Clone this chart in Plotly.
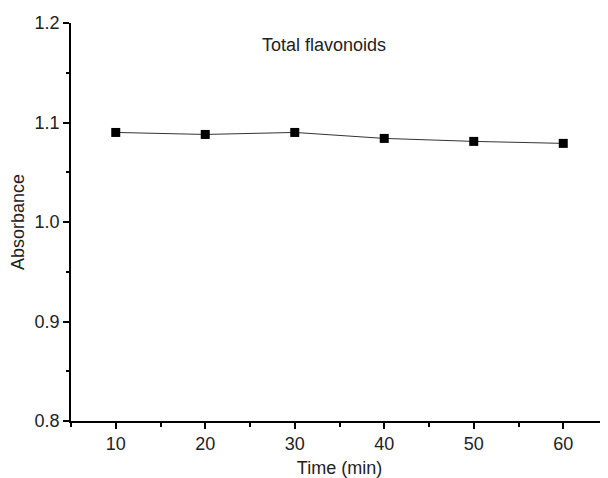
import plotly.graph_objects as go

time_min = [10, 20, 30, 40, 50, 60]
absorbance = [1.090, 1.088, 1.090, 1.084, 1.081, 1.079]
x_ticks = [10, 20, 30, 40, 50, 60]
y_ticks = [0.8, 0.9, 1.0, 1.1, 1.2]
title_text = "Total flavonoids"

fig = go.Figure()
fig.add_trace(go.Scatter(
    x=time_min, y=absorbance, mode="lines+markers",
    line=dict(color="#333333", width=1),
    marker=dict(symbol="square", size=9, color="black"),
    showlegend=False, cliponaxis=False,
))

font = dict(family="Liberation Sans, Arial, sans-serif", size=18, color="#222222")

fig.update_layout(
    width=600, height=470,
    margin=dict(l=63, r=0, t=15, b=57),
    paper_bgcolor="white", plot_bgcolor="white",
    font=font,
    xaxis=dict(
        range=[5, 65], tickvals=x_ticks, showgrid=False, zeroline=False,
        showline=True, linecolor="black", linewidth=1.5,
        ticks="outside", ticklen=6, tickwidth=1.5, tickcolor="black",
        minor=dict(dtick=5, tick0=5, ticks="outside", ticklen=4, tickwidth=1.5, tickcolor="black"),
        title=dict(text="Time (min)", standoff=8, font=font),
    ),
    yaxis=dict(
        range=[0.8, 1.2], tickvals=y_ticks, tickformat=".1f", showgrid=False, zeroline=False,
        showline=True, linecolor="black", linewidth=1.5,
        ticks="outside", ticklen=6, tickwidth=1.5, tickcolor="black",
        minor=dict(dtick=0.05, tick0=0.8, ticks="outside", ticklen=3, tickwidth=1.5, tickcolor="black"),
        title=dict(text="Absorbance", standoff=6, font=font),
    ),
    annotations=[dict(
        text=title_text, x=0.472, y=0.945, xref="paper", yref="paper",
        showarrow=False, font=font, xanchor="center", yanchor="middle",
    )],
)

fig.write_html("out.html")
